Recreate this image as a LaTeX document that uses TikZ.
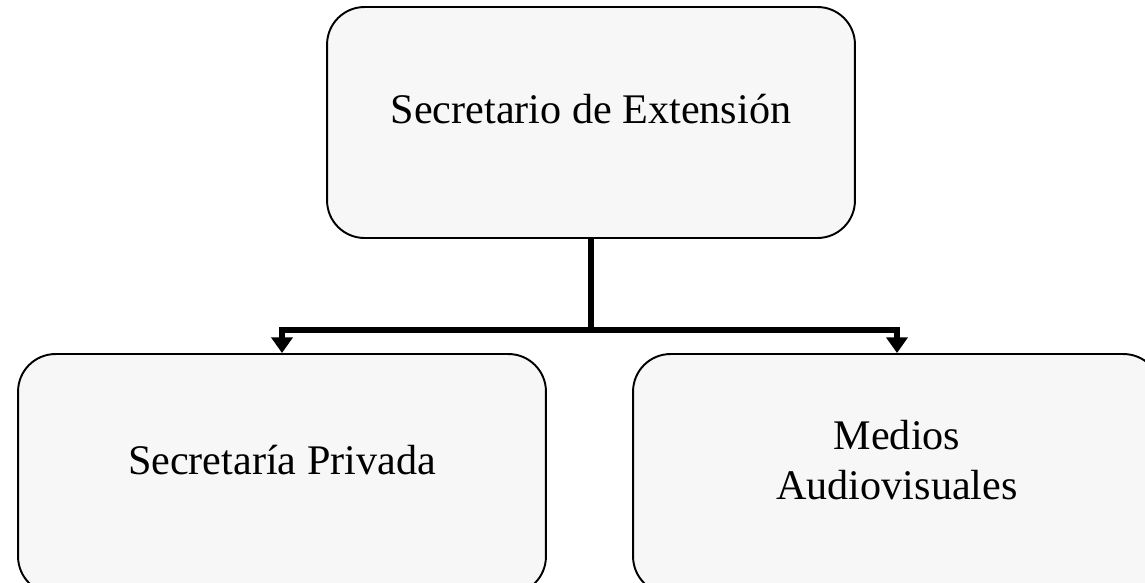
\documentclass[tikz,border=0pt]{standalone}
\usepackage{fontspec}
\setmainfont{Liberation Serif}
\usetikzlibrary{arrows.meta}
\tikzset{
  caja/.style={draw, line width=1.1pt, rounded corners=0.75cm, fill=black!3,
    minimum width=10.56cm, align=center, text depth=0.55cm,
    font=\fontsize{24}{28.5}\selectfont},
  rama/.style={line width=3pt},
  flecha/.style={rama, -{Triangle[width=12pt,length=9pt]}}
}
\begin{document}
\begin{tikzpicture}[x=0.02cm,y=-0.02cm]
\useasboundingbox (0,0) rectangle (1145,582);
\clip (0,0) rectangle (1145,582);
\node[caja, minimum height=4.62cm] (ext) at (591,122.5) {Secretario de Extensión};
\node[caja, minimum height=4.8cm] (priv) at (282,474) {Secretaría Privada};
\node[caja, minimum height=4.8cm] (med) at (897,474) {Medios\\Audiovisuales};
\draw[rama] (ext.south) -- ++(0,91) coordinate (B);
\draw[flecha] (B) -| (priv.north);
\draw[flecha] (B) -| (med.north);
\end{tikzpicture}
\end{document}
